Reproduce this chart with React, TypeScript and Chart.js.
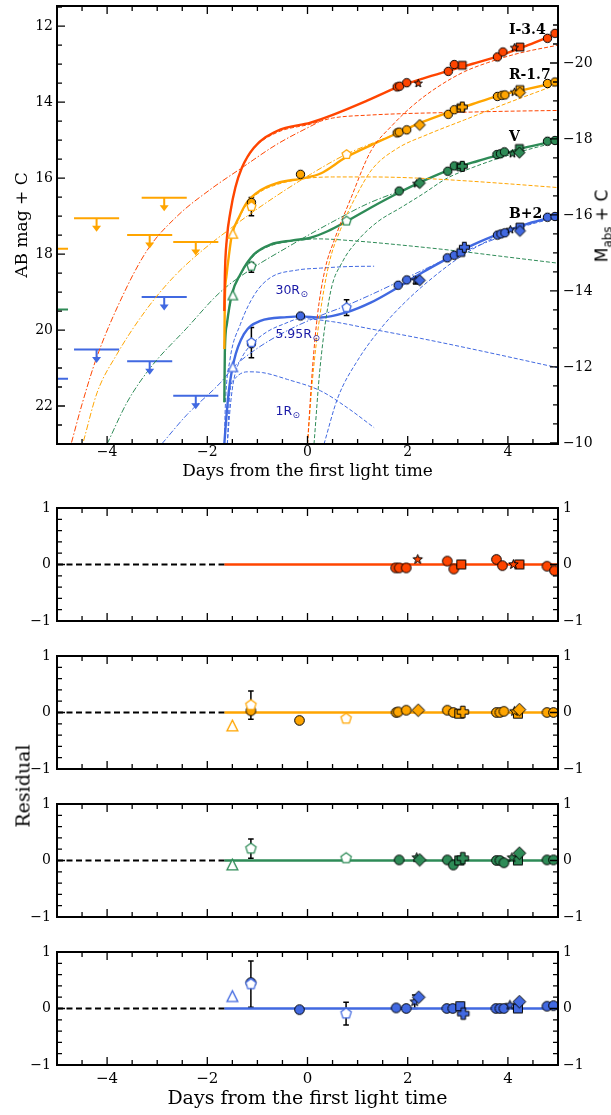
import React, { useEffect, useRef } from 'react';
import { Chart, registerables } from 'chart.js';

Chart.register(...registerables);

type P = [number, number];
type E = [number, number, number];

const SERIF = "'DejaVu Serif', serif";
const SANS = "'DejaVu Sans', sans-serif";
const C_I = '#FF4500';
const C_R = '#FFA500';
const C_V = '#2E8B57';
const C_B = '#4169E1';

// ---------------- ticks ----------------
const X_MAJOR = [-4, -2, 0, 2, 4];
const X_MINOR = [-4.5, -3.5, -3, -2.5, -1.5, -1, -0.5, 0.5, 1, 1.5, 2.5, 3, 3.5, 4.5];
const MAG_MAJOR = [12, 14, 16, 18, 20, 22];
const MAG_MINOR = [11.5, 12.5, 13, 13.5, 14.5, 15, 15.5, 16.5, 17, 17.5, 18.5, 19, 19.5, 20.5, 21, 21.5, 22.5];
const ABS_MAJOR = [-20, -18, -16, -14, -12, -10];
const ABS_MINOR = [-21.5, -21, -20.5, -19.5, -19, -18.5, -17.5, -17, -16.5, -15.5, -15, -14.5, -13.5, -13, -12.5, -11.5, -11, -10.5];
const RES_MAJOR = [-1, 0, 1];
const RES_MINOR = [-0.8, -0.6, -0.4, -0.2, 0.2, 0.4, 0.6, 0.8];

// ---------------- observed photometry (days, AB mag + C) ----------------
const I_circle: P[] = [[1.79, 13.6], [1.84, 13.58], [1.98, 13.49], [2.81, 13.19], [2.93, 13.01], [3.79, 12.81], [3.9, 12.68], [4.79, 12.32], [4.94, 12.19]];
const I_square: P[] = [[3.09, 13.03], [4.24, 12.55]];
const I_star: P[] = [[2.21, 13.51], [4.13, 12.57]];

const R_circle: P[] = [[-1.12, 16.64], [-0.14, 15.9], [1.79, 14.81], [1.83, 14.79], [1.98, 14.73], [2.81, 14.32], [2.93, 14.2], [3.79, 13.85], [3.88, 13.82], [3.94, 13.81], [4.79, 13.51], [4.94, 13.47]];
const R_square: P[] = [[3.06, 14.15], [4.24, 13.67]];
const R_plus: P[] = [[3.09, 14.13]];
const R_star: P[] = [[4.13, 13.74]];
const R_diamond: P[] = [[2.24, 14.6], [4.24, 13.75]];
const R_pentagon: P[] = [[-1.12, 16.75], [0.78, 15.38]];
const R_triangle: P[] = [[-1.49, 17.46]];

const V_circle: P[] = [[1.83, 16.34], [2.8, 15.82], [2.93, 15.68], [3.78, 15.38], [3.85, 15.36], [3.93, 15.31], [4.79, 15.03], [4.94, 15.01]];
const V_square: P[] = [[3.06, 15.7], [4.23, 15.22]];
const V_plus: P[] = [[3.09, 15.69]];
const V_star: P[] = [[2.18, 16.15], [4.09, 15.36]];
const V_diamond: P[] = [[2.24, 16.13], [4.23, 15.33]];
const V_pentagon: P[] = [[-1.12, 18.32], [0.78, 17.13]];
const V_triangle: P[] = [[-1.49, 19.08]];

const B_circle: P[] = [[-1.12, 20.36], [-0.14, 19.63], [1.81, 18.82], [1.98, 18.68], [2.79, 18.1], [2.93, 18.03], [3.79, 17.5], [3.86, 17.47], [3.94, 17.44], [4.79, 17.03], [4.94, 17.01]];
const B_square: P[] = [[3.06, 17.96], [4.24, 17.29]];
const B_plus: P[] = [[3.13, 17.82]];
const B_star: P[] = [[2.16, 18.69], [4.05, 17.36]];
const B_diamond: P[] = [[2.24, 18.69], [4.24, 17.39]];
const B_pentagon: P[] = [[-1.12, 20.33], [0.78, 19.41]];
const B_triangle: P[] = [[-1.49, 20.97]];

const TOP_err: E[] = [[-1.12, 16.75, 0.24], [-1.12, 18.35, 0.13], [-1.12, 20.33, 0.4], [0.78, 19.41, 0.21], [0.78, 15.38, 0.04], [0.78, 17.13, 0.04], [2.16, 18.69, 0.1]];

// upper limits (days, mag)
const R_limit: P[] = [[-5.23, 17.86], [-4.21, 17.06], [-3.15, 17.5], [-2.86, 16.52], [-2.23, 17.68]];
const V_limit: P[] = [[-5.23, 19.46]];
const B_limit: P[] = [[-5.23, 21.28], [-4.21, 20.51], [-3.15, 20.82], [-2.86, 19.13], [-2.23, 21.73]];

// ---------------- model curves ----------------
const I_total: P[] = [[-1.66, 19.5], [-1.65, 18.6], [-1.61, 17.6], [-1.54, 16.9], [-1.44, 16.25], [-1.31, 15.73], [-1.07, 15.2], [-0.61, 14.76], [0.06, 14.54], [0.53, 14.32], [1.19, 13.96], [1.79, 13.61], [2.3, 13.38], [2.83, 13.17], [3.3, 12.99], [3.83, 12.78], [4.4, 12.5], [4.97, 12.2]];
const I_sc: P[] = [[-1.66, 19.5], [-1.65, 18.6], [-1.61, 17.6], [-1.54, 16.9], [-1.44, 16.25], [-1.31, 15.74], [-1.07, 15.22], [-0.61, 14.8], [0.06, 14.58], [0.5, 14.42], [1.26, 14.34], [2, 14.3], [3, 14.27], [4, 14.24], [5, 14.22]];
const I_pl: P[] = [[-4.71, 22.96], [-4.5, 21.95], [-4.21, 20.73], [-3.74, 19.24], [-3.2, 17.9], [-2.6, 17.0], [-1.94, 16.3], [-1.3, 15.72], [-0.61, 15.11], [0.26, 14.5]];
const I_rise: P[] = [[0.0, 23.0], [0.1, 21.0], [0.2, 19.6], [0.35, 18.4], [0.53, 17.65], [0.86, 16.55], [1.26, 15.3], [1.7, 14.6], [2.13, 14.06], [2.6, 13.6], [3.13, 13.2], [3.6, 12.96], [4.2, 12.72], [5, 12.5]];

const R_total: P[] = [[-1.66, 20.5], [-1.65, 19.2], [-1.62, 18.6], [-1.57, 18.05], [-1.51, 17.5], [-1.37, 17.04], [-1.21, 16.64], [-0.94, 16.32], [-0.61, 16.13], [-0.07, 16.0], [0.26, 15.88], [0.76, 15.46], [1.26, 15.14], [1.79, 14.82], [2.3, 14.52], [2.79, 14.28], [3.3, 14.05], [3.79, 13.84], [4.4, 13.65], [4.99, 13.48]];
const R_sc: P[] = [[-1.66, 20.5], [-1.65, 19.2], [-1.62, 18.6], [-1.57, 18.05], [-1.51, 17.52], [-1.37, 17.07], [-1.21, 16.68], [-0.94, 16.36], [-0.61, 16.17], [-0.1, 16.02], [0.5, 15.97], [1.26, 15.97], [2, 15.99], [3, 16.06], [4, 16.15], [5, 16.25]];
const R_pl: P[] = [[-4.47, 22.92], [-4.2, 21.65], [-3.81, 20.65], [-3.21, 19.45], [-2.67, 18.6], [-2.14, 17.95], [-1.51, 17.3], [-1.12, 16.92], [-0.6, 16.45], [0.06, 15.9], [0.76, 15.38], [1.26, 15.1], [1.79, 14.82]];
const R_rise: P[] = [[0.0, 23.0], [0.1, 21.3], [0.25, 19.6], [0.43, 18.25], [0.66, 17.35], [1.0, 16.4], [1.3, 15.75], [1.79, 15.22], [2.4, 14.85], [3.13, 14.47], [4.0, 14.02], [5.0, 13.53]];

const V_total: P[] = [[-1.66, 21.9], [-1.65, 20.6], [-1.61, 19.85], [-1.51, 19.06], [-1.34, 18.53], [-1.07, 18.01], [-0.74, 17.75], [-0.3, 17.64], [0.06, 17.57], [0.4, 17.4], [0.79, 17.13], [1.26, 16.78], [1.86, 16.36], [2.3, 16.08], [2.86, 15.77], [3.4, 15.55], [3.86, 15.38], [4.4, 15.18], [4.99, 15.01]];
const V_sc: P[] = [[-1.66, 21.9], [-1.65, 20.6], [-1.61, 19.87], [-1.51, 19.08], [-1.34, 18.56], [-1.07, 18.04], [-0.74, 17.78], [-0.3, 17.66], [0.2, 17.6], [1, 17.66], [2, 17.78], [3, 17.92], [4, 18.08], [5, 18.24]];
const V_pl: P[] = [[-4.0, 23.0], [-3.6, 21.9], [-3.14, 21.0], [-2.41, 19.95], [-1.74, 19.0], [-1.07, 18.35], [-0.4, 17.82], [0.06, 17.47], [0.53, 17.13], [1.19, 16.68], [1.86, 16.33]];
const V_rise: P[] = [[0.13, 23.0], [0.25, 21.0], [0.46, 19.0], [0.7, 18.2], [0.99, 17.66], [1.4, 17.15], [1.86, 16.78], [2.3, 16.42], [2.79, 16.0], [3.3, 15.72], [3.86, 15.46], [4.4, 15.25], [4.99, 15.05]];

const B_total: P[] = [[-1.66, 23.0], [-1.62, 22.3], [-1.57, 21.6], [-1.47, 20.82], [-1.27, 20.11], [-0.94, 19.76], [-0.41, 19.66], [-0.14, 19.64], [0.26, 19.67], [0.79, 19.53], [1.26, 19.28], [1.79, 18.89], [2.3, 18.48], [2.79, 18.12], [3.3, 17.76], [3.86, 17.45], [4.4, 17.2], [4.99, 17.0]];
const B_sc595: P[] = [[-1.6, 23.0], [-1.54, 22.0], [-1.47, 21.3], [-1.3, 20.7], [-1.07, 20.32], [-0.8, 20.04], [-0.47, 19.84], [-0.14, 19.7], [0.5, 19.78], [1.26, 19.97], [2.26, 20.22], [3.5, 20.56], [4.99, 20.99]];
const B_sc30: P[] = [[-1.66, 23.0], [-1.64, 22.0], [-1.55, 20.8], [-1.34, 19.85], [-1.05, 19.05], [-0.74, 18.62], [-0.2, 18.42], [0.26, 18.37], [0.8, 18.33], [1.33, 18.32]];
const B_sc1: P[] = [[-1.6, 23.0], [-1.55, 21.65], [-1.45, 21.28], [-1.2, 21.1], [-0.9, 21.12], [-0.4, 21.3], [0.26, 21.6], [0.8, 22.05], [1.33, 22.57]];
const B_pl: P[] = [[-2.91, 23.0], [-2.4, 22.22], [-1.74, 21.39], [-1.47, 20.97], [-1.0, 20.48], [-0.41, 20.02], [0.26, 19.62], [0.73, 19.38], [1.3, 19.05], [1.86, 18.7], [2.4, 18.36], [2.9, 18.06], [3.5, 17.73], [3.9, 17.52]];
const B_rise: P[] = [[0.33, 23.0], [0.6, 21.8], [1.0, 20.8], [1.5, 19.9], [2.0, 19.2], [2.5, 18.62], [3.0, 18.12], [3.5, 17.72], [4.0, 17.42], [4.5, 17.2], [5.0, 17.04]];

// ---------------- residuals ----------------
const RES_PRE: P[] = [[-5, 0], [-1.66, 0]];
const RES_FIT: P[] = [[-1.66, 0], [5, 0]];

const I_res_circle: P[] = [[1.76, -0.06], [1.83, -0.06], [1.97, -0.06], [2.79, 0.06], [2.92, -0.08], [3.77, 0.09], [3.89, -0.02], [4.78, -0.03], [4.93, -0.11]];
const I_res_square: P[] = [[3.07, 0], [4.23, 0]];
const I_res_star: P[] = [[2.2, 0.09], [4.11, 0]];

const R_res_circle: P[] = [[-1.13, 0.03], [-0.16, -0.14], [1.77, 0], [1.81, 0.01], [1.97, 0.04], [2.79, 0.04], [2.91, 0], [3.77, 0], [3.84, 0], [3.92, 0.02], [4.78, 0], [4.91, 0]];
const R_res_square: P[] = [[3.03, -0.02], [4.2, -0.02]];
const R_res_plus: P[] = [[3.1, 0.01]];
const R_res_star: P[] = [[4.13, 0.02]];
const R_res_diamond: P[] = [[2.21, 0.04], [4.23, 0.05]];
const R_res_pentagon: P[] = [[-1.13, 0.13], [0.77, -0.11]];
const R_res_triangle: P[] = [[-1.5, -0.23]];
const R_res_err: E[] = [[-1.13, 0.13, 0.25], [0.77, -0.11, 0.04]];

const V_res_circle: P[] = [[1.83, 0.01], [2.79, 0.01], [2.91, -0.08], [3.77, 0], [3.84, 0], [3.92, -0.04], [4.78, 0.01], [4.91, 0.01]];
const V_res_square: P[] = [[3.03, 0], [4.2, 0]];
const V_res_plus: P[] = [[3.1, 0.04]];
const V_res_star: P[] = [[2.18, 0.05], [4.08, 0.05]];
const V_res_diamond: P[] = [[2.24, 0.01], [4.23, 0.13]];
const V_res_pentagon: P[] = [[-1.13, 0.21], [0.77, 0.04]];
const V_res_triangle: P[] = [[-1.5, -0.07]];
const V_res_err: E[] = [[-1.13, 0.21, 0.17], [0.77, 0.04, 0.03]];

const B_res_circle: P[] = [[-1.13, 0.46], [-0.16, -0.02], [1.77, 0.01], [1.97, 0], [2.78, 0], [2.9, 0], [3.76, 0], [3.84, 0], [3.92, 0], [4.78, 0.04], [4.91, 0.05]];
const B_res_square: P[] = [[3.05, 0.04], [4.2, 0]];
const B_res_plus: P[] = [[3.11, -0.09]];
const B_res_star: P[] = [[2.14, 0.12], [4.04, 0.06]];
const B_res_diamond: P[] = [[2.22, 0.2], [4.23, 0.12]];
const B_res_pentagon: P[] = [[-1.13, 0.43], [0.77, -0.09]];
const B_res_triangle: P[] = [[-1.5, 0.22]];
const B_res_err: E[] = [[-1.13, 0.43, 0.41], [0.77, -0.09, 0.2], [2.14, 0.12, 0.12]];

// ---------------- annotations ----------------
const BAND_LABELS = [
  { text: 'I-3.4', x: 4.02, y: 12.21 },
  { text: 'R-1.7', x: 4.02, y: 13.39 },
  { text: 'V', x: 4.02, y: 15.02 },
  { text: 'B+2', x: 4.02, y: 17.04 },
];
const RADIUS_LABELS = [
  { text: '30R', x: -0.64, y: 19.04 },
  { text: '5.95R', x: -0.64, y: 20.22 },
  { text: '1R', x: -0.64, y: 22.24 },
];
const LIM_HALF = 0.45;

const fmt = (v: any) => {
  const n = Number(v);
  return n < 0 ? '\u2212' + String(Math.abs(n)) : String(n);
};

// ---------------- markers ----------------
const SIZE: Record<string, number> = { circle: 8.4, square: 7.8, plus: 10, star: 8.6, diamond: 9.6, pentagon: 9.4, triangle: 9.4 };
const ORDER: Record<string, number> = { circle: 60, square: 50, plus: 40, star: 30, diamond: 20, pentagon: 10, triangle: 5 };
const cache: Record<string, HTMLCanvasElement> = {};

function drawMarker(shape: string, fill: string, stroke: string, size: number, lw: number) {
  const S = Math.ceil(size * 1.5 + lw * 2 + 2);
  const c = document.createElement('canvas');
  c.width = S;
  c.height = S;
  const g = c.getContext('2d')!;
  const cx = S / 2, cy = S / 2, r = size / 2;
  g.beginPath();
  if (shape === 'circle') g.arc(cx, cy, r, 0, Math.PI * 2);
  else if (shape === 'square') g.rect(cx - r, cy - r, 2 * r, 2 * r);
  else if (shape === 'diamond') {
    const d = r * 1.15;
    g.moveTo(cx, cy - d); g.lineTo(cx + d, cy); g.lineTo(cx, cy + d); g.lineTo(cx - d, cy);
  } else if (shape === 'triangle') {
    g.moveTo(cx, cy - r); g.lineTo(cx + r, cy + r); g.lineTo(cx - r, cy + r);
  } else if (shape === 'pentagon') {
    for (let k = 0; k < 5; k++) {
      const a = -Math.PI / 2 + (k * 2 * Math.PI) / 5;
      const px = cx + r * Math.cos(a), py = cy + r * Math.sin(a);
      if (k) g.lineTo(px, py); else g.moveTo(px, py);
    }
  } else if (shape === 'star') {
    for (let k = 0; k < 10; k++) {
      const rr = k % 2 ? r * 0.42 : r;
      const a = -Math.PI / 2 + (k * Math.PI) / 5;
      const px = cx + rr * Math.cos(a), py = cy + rr * Math.sin(a);
      if (k) g.lineTo(px, py); else g.moveTo(px, py);
    }
  } else if (shape === 'plus') {
    const w = r * 0.38;
    const pts = [[-w, -r], [w, -r], [w, -w], [r, -w], [r, w], [w, w], [w, r], [-w, r], [-w, w], [-r, w], [-r, -w], [-w, -w]];
    pts.forEach(([dx, dy], k) => (k ? g.lineTo(cx + dx, cy + dy) : g.moveTo(cx + dx, cy + dy)));
  }
  g.closePath();
  g.fillStyle = fill;
  g.fill();
  g.lineWidth = lw;
  g.strokeStyle = stroke;
  g.stroke();
  return c;
}

function mk(shape: string, color: string, scale: number) {
  const open = shape === 'pentagon' || shape === 'triangle';
  const key = shape + color + scale;
  if (!cache[key]) cache[key] = drawMarker(shape, open ? '#ffffff' : color, open ? color : '#000000', SIZE[shape] * scale, open ? 1.3 : 1.0);
  return cache[key];
}

const toXY = (a: P[]) => a.map(([x, y]) => ({ x, y }));

function pts(arr: P[], shape: string, color: string, scale: number) {
  return {
    type: 'line', showLine: false, data: toXY(arr), pointStyle: mk(shape, color, scale),
    pointRadius: 5, pointHoverRadius: 5, order: ORDER[shape], clip: 0, yAxisID: 'y',
  };
}

function curve(arr: P[], color: string, width: number, dash: number[] = []) {
  return {
    type: 'line', data: toXY(arr), borderColor: color, borderWidth: width, borderDash: dash,
    pointRadius: 0, pointHoverRadius: 0, cubicInterpolationMode: 'monotone', fill: false,
    order: 100, clip: 0, yAxisID: 'y',
  };
}

function limitBars(arr: P[], color: string) {
  return arr.map(([x, y]) => ({
    type: 'line', data: [{ x: x - LIM_HALF, y }, { x: x + LIM_HALF, y }], borderColor: color, borderWidth: 2,
    pointRadius: 0, tension: 0, order: 100, clip: 0, yAxisID: 'y',
  }));
}

const DASH = [4, 2];
const DASHDOT = [6, 2, 1.5, 2];

// ---------------- plugins ----------------
function framePlugin(xMaj: number[], xMin: number[], yMaj: number[], yMin: number[], y2Maj: number[], y2Min: number[]) {
  return {
    id: 'frameTicks',
    afterDatasetsDraw(chart: any) {
      const { ctx, chartArea: a } = chart;
      const sx = chart.scales.x, sy = chart.scales.y, sy2 = chart.scales.y2;
      ctx.save();
      ctx.strokeStyle = '#000';
      ctx.lineWidth = 1.3;
      ctx.beginPath();
      const hx = (vals: number[], len: number) => vals.forEach((v) => {
        const p = sx.getPixelForValue(v);
        ctx.moveTo(p, a.bottom); ctx.lineTo(p, a.bottom - len);
        ctx.moveTo(p, a.top); ctx.lineTo(p, a.top + len);
      });
      const vl = (s: any, vals: number[], len: number) => vals.forEach((v) => {
        const p = s.getPixelForValue(v);
        ctx.moveTo(a.left, p); ctx.lineTo(a.left + len, p);
      });
      const vr = (s: any, vals: number[], len: number) => vals.forEach((v) => {
        const p = s.getPixelForValue(v);
        ctx.moveTo(a.right, p); ctx.lineTo(a.right - len, p);
      });
      hx(xMaj, 8); hx(xMin, 5);
      vl(sy, yMaj, 8); vl(sy, yMin, 5);
      vr(sy2, y2Maj, 8); vr(sy2, y2Min, 5);
      ctx.stroke();
      ctx.lineWidth = 2;
      ctx.strokeRect(a.left, a.top, a.right - a.left, a.bottom - a.top);
      ctx.restore();
    },
  };
}

function errPlugin(errs: E[]) {
  return {
    id: 'errBars',
    beforeDatasetsDraw(chart: any) {
      const { ctx, chartArea: a } = chart;
      const sx = chart.scales.x, sy = chart.scales.y;
      ctx.save();
      ctx.beginPath();
      ctx.rect(a.left, a.top, a.right - a.left, a.bottom - a.top);
      ctx.clip();
      ctx.strokeStyle = '#000';
      ctx.lineWidth = 1.5;
      ctx.beginPath();
      errs.forEach(([x, y, e]) => {
        const px = sx.getPixelForValue(x);
        const p1 = sy.getPixelForValue(y - e), p2 = sy.getPixelForValue(y + e);
        ctx.moveTo(px, p1); ctx.lineTo(px, p2);
        ctx.moveTo(px - 2.8, p1); ctx.lineTo(px + 2.8, p1);
        ctx.moveTo(px - 2.8, p2); ctx.lineTo(px + 2.8, p2);
      });
      ctx.stroke();
      ctx.restore();
    },
  };
}

function arrowPlugin(groups: { arr: P[]; color: string }[]) {
  return {
    id: 'limitArrows',
    afterDatasetsDraw(chart: any) {
      const { ctx, chartArea: a } = chart;
      const sx = chart.scales.x, sy = chart.scales.y;
      ctx.save();
      ctx.beginPath();
      ctx.rect(a.left, a.top, a.right - a.left, a.bottom - a.top);
      ctx.clip();
      groups.forEach(({ arr, color }) => {
        arr.forEach(([x, y]) => {
          const px = sx.getPixelForValue(x), py = sy.getPixelForValue(y);
          ctx.strokeStyle = color;
          ctx.fillStyle = color;
          ctx.lineWidth = 2;
          ctx.beginPath();
          ctx.moveTo(px, py); ctx.lineTo(px, py + 8.5);
          ctx.stroke();
          ctx.beginPath();
          ctx.moveTo(px - 4.5, py + 7.5); ctx.lineTo(px + 4.5, py + 7.5); ctx.lineTo(px, py + 13.5);
          ctx.closePath();
          ctx.fill();
        });
      });
      ctx.restore();
    },
  };
}

function textPlugin() {
  return {
    id: 'annotText',
    afterDatasetsDraw(chart: any) {
      const { ctx } = chart;
      const sx = chart.scales.x, sy = chart.scales.y;
      ctx.save();
      ctx.textBaseline = 'alphabetic';
      ctx.textAlign = 'left';
      ctx.fillStyle = '#000';
      ctx.font = `bold 14px ${SERIF}`;
      BAND_LABELS.forEach((l) => ctx.fillText(l.text, sx.getPixelForValue(l.x), sy.getPixelForValue(l.y)));
      RADIUS_LABELS.forEach((l) => {
        const px = sx.getPixelForValue(l.x), py = sy.getPixelForValue(l.y);
        ctx.fillStyle = '#1a1aa6';
        ctx.font = `12.5px ${SANS}`;
        ctx.fillText(l.text, px, py);
        const w = ctx.measureText(l.text).width;
        ctx.font = `9px ${SANS}`;
        ctx.fillText('\u2299', px + w + 0.5, py + 3);
      });
      ctx.restore();
    },
  };
}

const zeroPad = (s: any) => {
  s.paddingLeft = 0; s.paddingRight = 0; s.paddingTop = 0; s.paddingBottom = 0;
};

// ---------------- configs ----------------
function topConfig(): any {
  const datasets: any[] = [];
  const bands = [
    { c: C_I, total: I_total, sc: [I_sc], pl: I_pl, rise: I_rise, p: { circle: I_circle, square: I_square, star: I_star } },
    { c: C_R, total: R_total, sc: [R_sc], pl: R_pl, rise: R_rise, p: { circle: R_circle, square: R_square, plus: R_plus, star: R_star, diamond: R_diamond, pentagon: R_pentagon, triangle: R_triangle } },
    { c: C_V, total: V_total, sc: [V_sc], pl: V_pl, rise: V_rise, p: { circle: V_circle, square: V_square, plus: V_plus, star: V_star, diamond: V_diamond, pentagon: V_pentagon, triangle: V_triangle } },
    { c: C_B, total: B_total, sc: [B_sc595, B_sc30, B_sc1], pl: B_pl, rise: B_rise, p: { circle: B_circle, square: B_square, plus: B_plus, star: B_star, diamond: B_diamond, pentagon: B_pentagon, triangle: B_triangle } },
  ];
  bands.forEach((b) => {
    Object.entries(b.p).forEach(([shape, arr]) => datasets.push(pts(arr as P[], shape, b.c, 1)));
    datasets.push(curve(b.total, b.c, 2.4));
    b.sc.forEach((s) => datasets.push(curve(s, b.c, 1, DASH)));
    datasets.push(curve(b.pl, b.c, 1, DASHDOT));
    datasets.push(curve(b.rise, b.c, 1, DASH));
  });
  datasets.push(...limitBars(R_limit, C_R), ...limitBars(V_limit, C_V), ...limitBars(B_limit, C_B));

  return {
    type: 'line',
    data: { datasets },
    options: {
      responsive: false, animation: false, devicePixelRatio: 1, events: [],
      layout: { padding: { top: 5, left: 0, right: 0, bottom: 0 } },
      plugins: { legend: { display: false }, tooltip: { enabled: false } },
      scales: {
        x: {
          type: 'linear', position: 'bottom', min: -5, max: 5,
          afterBuildTicks: (s: any) => { s.ticks = X_MAJOR.map((v) => ({ value: v })); },
          ticks: { callback: fmt, font: { family: SERIF, size: 14 }, color: '#000', padding: 0, maxRotation: 0, autoSkip: false },
          grid: { display: false, drawTicks: false }, border: { display: false },
          title: { display: true, text: 'Days from the first light time', font: { family: SERIF, size: 17 }, color: '#000', padding: { top: 0, bottom: 7.8 } },
          afterFit: (s: any) => { s.height = 46; zeroPad(s); },
        },
        y: {
          type: 'linear', position: 'left', min: 11.47, max: 23.0, reverse: true,
          afterBuildTicks: (s: any) => { s.ticks = MAG_MAJOR.map((v) => ({ value: v })); },
          ticks: { callback: fmt, font: { family: SERIF, size: 14 }, color: '#000', padding: 4, autoSkip: false },
          grid: { display: false, drawTicks: false }, border: { display: false },
          title: { display: true, text: 'AB mag + C', font: { family: SERIF, size: 17 }, color: '#000', padding: { top: 12, bottom: 0 } },
          afterFit: (s: any) => { s.width = 57; zeroPad(s); },
        },
        y2: {
          type: 'linear', position: 'right', min: -21.5, max: -9.97, reverse: true,
          afterBuildTicks: (s: any) => { s.ticks = ABS_MAJOR.map((v) => ({ value: v })); },
          ticks: { callback: fmt, font: { family: SERIF, size: 14 }, color: '#000', padding: 5, autoSkip: false },
          grid: { display: false, drawTicks: false }, border: { display: false },
          afterFit: (s: any) => { s.width = 53; zeroPad(s); },
        },
      },
    },
    plugins: [errPlugin(TOP_err), arrowPlugin([{ arr: R_limit, color: C_R }, { arr: V_limit, color: C_V }, { arr: B_limit, color: C_B }]), textPlugin(), framePlugin(X_MAJOR, X_MINOR, MAG_MAJOR, MAG_MINOR, ABS_MAJOR, ABS_MINOR)],
  };
}

function resConfig(color: string, sets: Record<string, P[]>, errs: E[], last: boolean, H: number): any {
  const datasets: any[] = [];
  Object.entries(sets).forEach(([shape, arr]) => datasets.push(pts(arr, shape, color, 1.15)));
  datasets.push(curve(RES_PRE, '#000', 1.8, [6, 3.5]));
  datasets.push(curve(RES_FIT, color, 2.5));
  const yAxis = (pos: string, w: number, pad: number) => ({
    type: 'linear', position: pos, min: -1, max: 1,
    afterBuildTicks: (s: any) => { s.ticks = RES_MAJOR.map((v) => ({ value: v })); },
    ticks: { callback: fmt, font: { family: SERIF, size: 14 }, color: '#000', padding: pad, autoSkip: false },
    grid: { display: false, drawTicks: false }, border: { display: false },
    afterFit: (s: any) => { s.width = w; zeroPad(s); },
  });
  return {
    type: 'line',
    data: { datasets },
    options: {
      responsive: false, animation: false, devicePixelRatio: 1, events: [],
      layout: { padding: { top: 18, left: 0, right: 0, bottom: 0 } },
      plugins: { legend: { display: false }, tooltip: { enabled: false } },
      scales: {
        x: {
          type: 'linear', position: 'bottom', min: -5, max: 5,
          afterBuildTicks: (s: any) => { s.ticks = X_MAJOR.map((v) => ({ value: v })); },
          ticks: { display: last, callback: fmt, font: { family: SERIF, size: 15 }, color: '#000', padding: 5, maxRotation: 0, autoSkip: false },
          grid: { display: false, drawTicks: false }, border: { display: false },
          title: { display: last, text: 'Days from the first light time', font: { family: SERIF, size: 19 }, color: '#000', padding: { top: 0, bottom: 4.6 } },
          afterFit: (s: any) => { s.height = H - 18 - 113; zeroPad(s); },
        },
        y: yAxis('left', 57, 6),
        y2: yAxis('right', 53, 5),
      },
    },
    plugins: [errPlugin(errs), framePlugin(X_MAJOR, X_MINOR, RES_MAJOR, RES_MINOR, RES_MAJOR, RES_MINOR)],
  };
}

export default function App() {
  const topRef = useRef<HTMLCanvasElement>(null);
  const r0 = useRef<HTMLCanvasElement>(null);
  const r1 = useRef<HTMLCanvasElement>(null);
  const r2 = useRef<HTMLCanvasElement>(null);
  const r3 = useRef<HTMLCanvasElement>(null);

  useEffect(() => {
    const charts: Chart[] = [];
    charts.push(new Chart(topRef.current!, topConfig()));
    charts.push(new Chart(r0.current!, resConfig(C_I, { circle: I_res_circle, square: I_res_square, star: I_res_star }, [], false, 148)));
    charts.push(new Chart(r1.current!, resConfig(C_R, { circle: R_res_circle, square: R_res_square, plus: R_res_plus, star: R_res_star, diamond: R_res_diamond, pentagon: R_res_pentagon, triangle: R_res_triangle }, R_res_err, false, 148)));
    charts.push(new Chart(r2.current!, resConfig(C_V, { circle: V_res_circle, square: V_res_square, plus: V_res_plus, star: V_res_star, diamond: V_res_diamond, pentagon: V_res_pentagon, triangle: V_res_triangle }, V_res_err, false, 148)));
    charts.push(new Chart(r3.current!, resConfig(C_B, { circle: B_res_circle, square: B_res_square, plus: B_res_plus, star: B_res_star, diamond: B_res_diamond, pentagon: B_res_pentagon, triangle: B_res_triangle }, B_res_err, true, 181)));
    return () => charts.forEach((c) => c.destroy());
  }, []);

  const cv = (top: number, h: number): React.CSSProperties => ({ position: 'absolute', left: 0, top, width: 611, height: h });

  return (
    <div style={{ position: 'absolute', left: 0, top: 0, width: 611, height: 1115, background: '#fff', overflow: 'hidden' }}>
      <canvas ref={topRef} width={611} height={490} style={cv(0, 490)} />
      <canvas ref={r0} width={611} height={148} style={cv(490, 148)} />
      <canvas ref={r1} width={611} height={148} style={cv(638, 148)} />
      <canvas ref={r2} width={611} height={148} style={cv(786, 148)} />
      <canvas ref={r3} width={611} height={181} style={cv(934, 181)} />
      <div style={{ position: 'absolute', left: 23, top: 786, transform: 'translate(-50%, -50%) rotate(-90deg)', fontFamily: SERIF, fontSize: 19, lineHeight: 1, whiteSpace: 'nowrap', color: '#000' }}>Residual</div>
      <div style={{ position: 'absolute', left: 602, top: 226, transform: 'translate(-50%, -50%) rotate(-90deg)', fontFamily: SANS, fontSize: 17, lineHeight: 1, whiteSpace: 'nowrap', color: '#000' }}>
        M<sub style={{ fontSize: '0.7em', lineHeight: 0 }}>abs</sub> + C
      </div>
    </div>
  );
}
